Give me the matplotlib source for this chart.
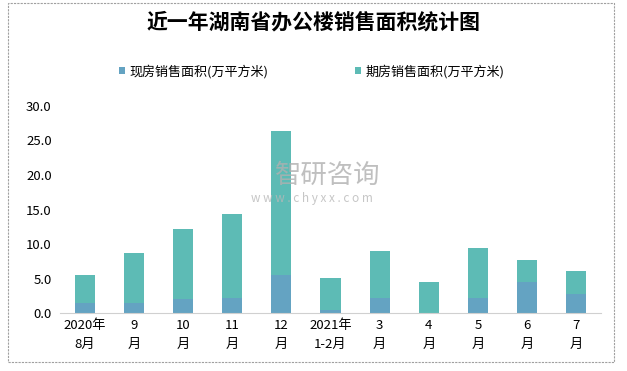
import numpy as np
import matplotlib
matplotlib.use('Agg')
import matplotlib.pyplot as plt
from matplotlib.patches import Rectangle

plt.rcParams['font.family'] = ['Noto Sans CJK SC', 'DejaVu Sans']

# months over the past year
months = ['2020年\n8月', '9\n月', '10\n月', '11\n月', '12\n月', '2021年\n1-2月',
          '3\n月', '4\n月', '5\n月', '6\n月', '7\n月']
# area sold, 10k square metres
existing = [1.45, 1.45, 2.03, 2.17, 5.5, 0.43, 2.17, 0.0, 2.17, 4.49, 2.75]
presale = [4.05, 7.25, 10.14, 12.18, 20.9, 4.64, 6.82, 4.49, 7.25, 3.19, 3.34]
yticks = [0, 5, 10, 15, 20, 25, 30]

fig = plt.figure(figsize=(6.27, 3.71), dpi=100)
ax = fig.add_axes([0.0957, 0.1563, 0.8628, 0.558])

x = np.arange(len(months))
ax.bar(x, existing, width=0.41, color='#64A3C2', label='现房销售面积(万平方米)')
ax.bar(x, presale, width=0.41, bottom=existing, color='#5DBBB5',
       label='期房销售面积(万平方米)')

ax.set_xlim(-0.5, len(months) - 0.5)
ax.set_ylim(0, 30)
ax.set_yticks(yticks)
ax.set_yticklabels(['%.1f' % v for v in yticks], fontsize=9.5)
ax.set_xticks(x)
ax.set_xticklabels(months, fontsize=9.5, linespacing=1.6)
ax.tick_params(length=0)
ax.tick_params(axis='y', pad=6)
ax.tick_params(axis='x', pad=4)
for s in ['top', 'right', 'left']:
    ax.spines[s].set_visible(False)
ax.spines['bottom'].set_color('#D0D0D0')

fig.text(0.5, 0.94, '近一年湖南省办公楼销售面积统计图', ha='center', va='center',
         fontsize=15, fontweight='bold')
ax.legend(loc='center', bbox_to_anchor=(0.497, 0.808), bbox_transform=fig.transFigure,
          ncol=2, frameon=False, fontsize=9.4, handlelength=0.45, handleheight=0.45,
          handletextpad=0.35, columnspacing=6.6)

# watermark
fig.text(0.523, 0.526, '智研咨询', ha='center', va='center', fontsize=19,
         color='#B0B0B0', alpha=0.8)
fig.text(0.498, 0.466, 'w w w . c h y x x . c o m', ha='center', va='center',
         fontsize=8.5, color='#B8B8B8', alpha=0.8)

fig.patches.append(Rectangle((8 / 627, 9 / 371), 606 / 627, 359 / 371,
                             transform=fig.transFigure, fill=False,
                             edgecolor='#A0A0A0', linestyle=(0, (2, 1)), lw=0.8))

fig.savefig('out.png', dpi=100)
